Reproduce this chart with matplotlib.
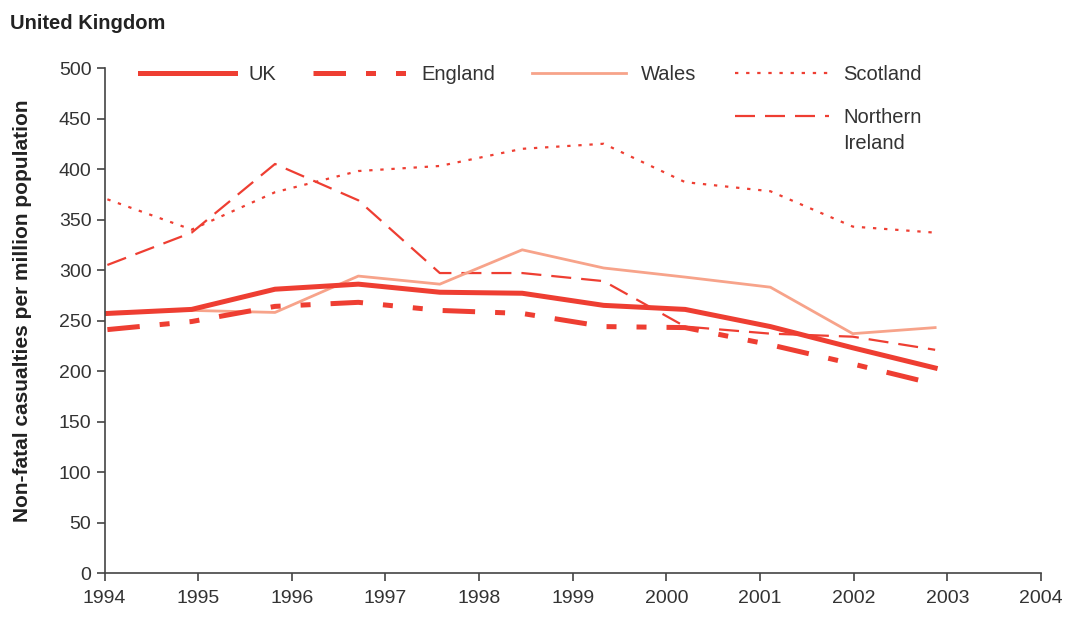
import matplotlib
matplotlib.use("Agg")
import matplotlib.pyplot as plt

plt.rcParams['font.family'] = ['Liberation Sans', 'DejaVu Sans']

# data points are drawn slightly compressed against the year axis in the original
xpos = [1994.03, 1994.93, 1995.82, 1996.71, 1997.58, 1998.46,
        1999.33, 2000.20, 2001.11, 2001.99, 2002.87]
uk = [257, 261, 281, 286, 278, 277, 265, 261, 244, 223, 203]
england = [241, 249, 264, 268, 260, 257, 244, 243, 226, 207, 187]
wales = [258, 260, 258, 294, 286, 320, 302, 293, 283, 237, 243]
scotland = [370, 340, 377, 398, 403, 420, 425, 387, 378, 343, 337]
nireland = [305, 337, 405, 369, 297, 297, 289, 244, 237, 234, 221]
years = list(range(1994, 2005))
yticks = list(range(0, 501, 50))

red = '#EE3E32'
salmon = '#F7A38A'
txt = '#333333'

fig = plt.figure(figsize=(10.66, 6.44), dpi=100)
ax = fig.add_axes([0.0981, 0.1102, 0.8784, 0.7842])

l_scot, = ax.plot(xpos, scotland, color=red, lw=1.6, ls=(0, (1.5, 3.5)),
                  label='Scotland', clip_on=False)
l_ni, = ax.plot(xpos, nireland, color=red, lw=1.6, ls=(0, (9, 4.5)),
                label='Northern', clip_on=False)
l_wal, = ax.plot(xpos, wales, color=salmon, lw=2.0, label='Wales', clip_on=False)
l_eng, = ax.plot(xpos, england, color=red, lw=3.6,
                 ls=(0, (6.5, 4, 2, 4, 2, 4)), label='England', clip_on=False)
l_uk, = ax.plot(xpos, uk, color=red, lw=3.6, label='UK', clip_on=False)

ax.set_xlim(1994, 2004)
ax.set_ylim(0, 500)
ax.set_xticks(years)
ax.set_yticks(yticks)
for s in ['top', 'right']:
    ax.spines[s].set_visible(False)
for s in ['left', 'bottom']:
    ax.spines[s].set_color('#444444')
    ax.spines[s].set_linewidth(1.2)
ax.tick_params(colors='#444444', labelcolor=txt, labelsize=14, length=6,
               width=1.2, direction='out')
ax.tick_params(axis='x', pad=6)
ax.set_ylabel('Non-fatal casualties per million population', fontsize=15,
              fontweight='bold', color='#222222')
ax.yaxis.set_label_coords(-0.077, 0.52)

fig.text(0.009, 0.978, 'United Kingdom', fontsize=14.5, fontweight='bold',
         color='#222222', va='top')

leg1 = ax.legend(handles=[l_uk, l_eng, l_wal], ncol=3, frameon=False,
                 loc='upper left', bbox_to_anchor=(0.038, 1.005),
                 fontsize=14.5, handlelength=4.7, handletextpad=0.7,
                 columnspacing=1.8, borderaxespad=0, borderpad=0,
                 labelcolor=txt)
ax.add_artist(leg1)
leg2 = ax.legend(handles=[l_scot, l_ni], ncol=1, frameon=False,
                 loc='upper left', bbox_to_anchor=(0.673, 1.005),
                 fontsize=14.5, handlelength=4.7, handletextpad=0.7,
                 labelspacing=1.15, borderaxespad=0, borderpad=0, labelcolor=txt)

# second line of the Northern Ireland label sits under the first one
fig.canvas.draw()
bb = leg2.get_texts()[1].get_window_extent()
fig.text(bb.x0 / fig.bbox.width, (bb.y1 - 26) / fig.bbox.height, 'Ireland',
         fontsize=14.5, color=txt, va='top', ha='left')

fig.savefig('out.png', dpi=100)
